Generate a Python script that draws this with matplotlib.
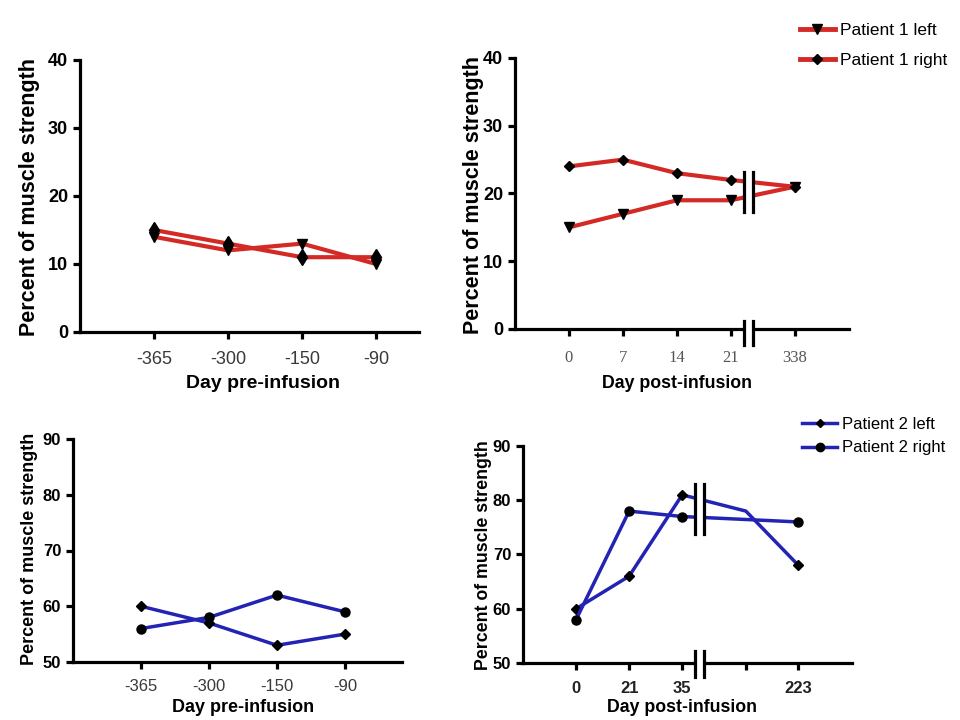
import matplotlib
matplotlib.use("Agg")
import matplotlib.pyplot as plt
from matplotlib.patches import Rectangle
from matplotlib.lines import Line2D

plt.rcParams['font.family'] = ['Liberation Sans', 'DejaVu Sans']

# ---------------- data ----------------
pre_days = ['-365', '-300', '-150', '-90']
p1_left_pre = [14, 12, 13, 10]
p1_right_pre = [15, 13, 11, 11]

post1_days = ['0', '7', '14', '21', '338']
p1_left_post = [15, 17, 19, 19, 21]
p1_right_post = [24, 25, 23, 22, 21]

p2_left_pre = [60, 57, 53, 55]
p2_right_pre = [56, 58, 62, 59]

post2_days = ['0', '21', '35', '', '223']
p2_left_post = [60, 66, 81, 78, 68]
p2_right_post = [58, 78, 77, 76]

# ---------------- layout / style ----------------
RED = '#d42a26'
BLUE = '#2323b4'
W, H = 960, 720
fig = plt.figure(figsize=(9.6, 7.2), dpi=100)


def px_axes(l, r, b, t):
    return fig.add_axes([l / W, 1 - b / H, (r - l) / W, (b - t) / H])


def style(ax, xlim, ylim, yticks, ytick_fs):
    for s in ['top', 'right']:
        ax.spines[s].set_visible(False)
    for s in ['left', 'bottom']:
        ax.spines[s].set_linewidth(2.3)
    ax.set_xlim(xlim)
    ax.set_ylim(ylim)
    ax.set_yticks(yticks)
    ax.tick_params(axis='both', width=2.3, length=5, direction='out')
    for lab in ax.get_yticklabels():
        lab.set_fontweight('bold')
        lab.set_fontsize(ytick_fs)
    ax.patch.set_alpha(0)


def add_break(ax, x1, x2, spans, gap_y):
    ax.add_patch(Rectangle((x1, gap_y[0]), x2 - x1, gap_y[1] - gap_y[0],
                           facecolor='white', edgecolor='none', zorder=4,
                           clip_on=False))
    for x in (x1, x2):
        for (ya, yb) in spans:
            ax.add_line(Line2D([x, x], [ya, yb], color='black', lw=2.3,
                               zorder=6, clip_on=False))


pre_pos = list(range(1, len(pre_days) + 1))

# ---- Top-left ----
ax1 = px_axes(80, 419, 332, 60)
style(ax1, (0, 4.58), (0, 40), [0, 10, 20, 30, 40], 13)
ax1.plot(pre_pos, p1_left_pre, color=RED, lw=3, marker='v', ms=7.5,
         mfc='black', mec='black', zorder=3)
ax1.plot(pre_pos, p1_right_pre, color=RED, lw=3, marker='d', ms=8.5,
         mfc='black', mec='black', zorder=3)
ax1.set_xticks(pre_pos)
ax1.set_xticklabels(pre_days, fontsize=13, color='#3a3a3a')
ax1.tick_params(axis='x', pad=9)

# ---- Top-right ----
post1_pos = [1, 2, 3, 4, 5.18]
ax2 = px_axes(515, 849, 329, 58)
style(ax2, (0, 6.19), (0, 40), [0, 10, 20, 30, 40], 13)
ax2.plot(post1_pos, p1_left_post, color=RED, lw=3, marker='v', ms=7.5,
         mfc='black', mec='black', zorder=3)
ax2.plot(post1_pos, p1_right_post, color=RED, lw=3, marker='D', ms=5.5,
         mfc='black', mec='black', zorder=3)
ax2.set_xticks(post1_pos)
ax2.set_xticklabels(post1_days, fontsize=12, color='#555555',
                    family=['Liberation Serif', 'DejaVu Serif'])
ax2.tick_params(axis='x', pad=10)
add_break(ax2, 4.24, 4.41, [(17.3, 23.2), (-2.4, 1.2)], (-3, 41))
ax2.legend(handles=[
    Line2D([], [], color=RED, lw=3.5, marker='v', ms=7, mfc='black', mec='black'),
    Line2D([], [], color=RED, lw=3.5, marker='D', ms=5, mfc='black', mec='black')],
    labels=['Patient 1 left', 'Patient 1 right'],
    loc='upper left', bbox_to_anchor=(800 / W, 1 - 23 / H),
    bbox_transform=fig.transFigure, frameon=False, fontsize=12.5,
    handlelength=2.0, handletextpad=0.3, labelspacing=0.85,
    borderpad=0, borderaxespad=0)

# ---- Bottom-left ----
ax3 = px_axes(73, 402, 662, 439)
style(ax3, (0, 4.84), (50, 90), [50, 60, 70, 80, 90], 12)
ax3.plot(pre_pos, p2_left_pre, color=BLUE, lw=2.5, marker='D', ms=5,
         mfc='black', mec='black', zorder=3)
ax3.plot(pre_pos, p2_right_pre, color=BLUE, lw=2.5, marker='o', ms=6.5,
         mfc='black', mec='black', zorder=3)
ax3.set_xticks(pre_pos)
ax3.set_xticklabels(pre_days, fontsize=12, color='#3a3a3a')
ax3.tick_params(axis='x', pad=7)

# ---- Bottom-right ----
post2_pos = [1, 2, 3, 4.2, 5.19]
ax4 = px_axes(523, 852, 663, 446)
style(ax4, (0, 6.2), (50, 90), [50, 60, 70, 80, 90], 12)
ax4.plot(post2_pos, p2_left_post, color=BLUE, lw=2.5, marker='D', ms=5,
         mfc='black', mec='black', markevery=[0, 1, 2, 4], zorder=3)
right_pos = [post2_pos[i] for i in (0, 1, 2, 4)]
ax4.plot(right_pos, p2_right_post, color=BLUE, lw=2.5, marker='o', ms=6.5,
         mfc='black', mec='black', zorder=3)
ax4.set_xticks(post2_pos)
ax4.set_xticklabels(post2_days, fontsize=12, fontweight='bold', color='#222222')
ax4.tick_params(axis='x', pad=8)
add_break(ax4, 3.245, 3.415, [(73.8, 83.0), (47.4, 52.2)], (47, 91))
ax4.legend(handles=[
    Line2D([], [], color=BLUE, lw=2.5, marker='D', ms=4.5, mfc='black', mec='black'),
    Line2D([], [], color=BLUE, lw=2.5, marker='o', ms=6, mfc='black', mec='black')],
    labels=['Patient 2 left', 'Patient 2 right'],
    loc='upper left', bbox_to_anchor=(802 / W, 1 - 417 / H),
    bbox_transform=fig.transFigure, frameon=False, fontsize=12,
    handlelength=2.1, handletextpad=0.3, labelspacing=0.5,
    borderpad=0, borderaxespad=0)

# ---- axis titles ----
def ftext(x, y, s, **kw):
    fig.text(x / W, 1 - y / H, s, ha='center', va='center',
             fontweight='bold', **kw)

ftext(30, 197, 'Percent of muscle strength', rotation=90, fontsize=15.5)
ftext(473, 195, 'Percent of muscle strength', rotation=90, fontsize=15.5)
ftext(30, 549, 'Percent of muscle strength', rotation=90, fontsize=13)
ftext(483, 555, 'Percent of muscle strength', rotation=90, fontsize=12.8)
ftext(263, 384, 'Day pre-infusion', fontsize=14)
ftext(677, 383, 'Day post-infusion', fontsize=12.8)
ftext(243, 707, 'Day pre-infusion', fontsize=13)
ftext(682, 707, 'Day post-infusion', fontsize=12.8)

fig.savefig('out.png', dpi=100)
